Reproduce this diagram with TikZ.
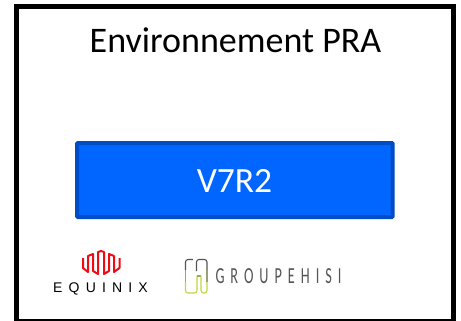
\documentclass[tikz,border=0pt]{standalone}
\usepackage{fontspec}
\setmainfont{Carlito}
\newfontfamily\eqxfont[LetterSpace=44]{Liberation Sans}
\newfontfamily\hisifont[LetterSpace=26,FakeStretch=0.62]{Carlito}
\definecolor{boxfill}{RGB}{0,102,255}
\definecolor{boxedge}{RGB}{0,76,199}
\definecolor{eqxred}{RGB}{240,10,20}
\definecolor{hisigrey}{RGB}{85,85,85}
\definecolor{hisimid}{RGB}{150,165,110}
\definecolor{hisigreen}{RGB}{195,215,70}
\begin{document}
\begin{tikzpicture}[x=1pt,y=-1pt,
  frame/.style={draw=black,line width=4.6pt},
  bluebox/.style={draw=boxedge,fill=boxfill,line width=4pt,rounded corners=1pt},
  lbl/.style={inner sep=0pt,anchor=center},
  logoline/.style={line width=1.1pt,rounded corners=2.5pt}]
\useasboundingbox (0,0) rectangle (461,321);
\fill[white] (0,0) rectangle (461,321);
\draw[frame] (16.5,321) -- (16.5,6.3) -- (453.5,6.3) -- (453.5,321) -- cycle;
\draw[bluebox] (77,143) rectangle (392.7,217);
\node[lbl] (title) at (235.5,40) {\fontsize{36}{40}\selectfont Environnement PRA};
\node[lbl,text=white] (v) at (234.5,181) {\fontsize{35.5}{40}\selectfont V7R2};
\draw[eqxred,line width=2pt,line join=round]
  (83,258) -- (83,268) -- (88,272) -- (88,256) -- (93,254) -- (93,271) -- (98,274) -- (98,252) -- (101,251) -- (104,252) -- (104,274) -- (109,271) -- (109,254) -- (114,256) -- (114,272) -- (119.5,268) -- (119.5,258);
\node[lbl] (eqx) at (100.5,289) {\eqxfont\fontsize{14}{16}\selectfont EQUINIX};
% logo outline, grey at the top fading to green at the bottom
\draw[hisigrey,logoline] (193,259.5) -- (185.5,259.5) -- (185.5,270);
\draw[hisimid,line width=1.1pt] (185.5,270) -- (185.5,282);
\draw[hisigreen,logoline] (185.5,282) -- (185.5,293) -- (197,293) -- (197,276);
\draw[hisimid,line width=1.1pt] (197,276) -- (201,276);
\draw[hisigrey,logoline] (196.5,271) -- (196.5,259.5) -- (207,259.5) -- (207,270);
\draw[hisimid,line width=1.1pt] (207,270) -- (207,282);
\draw[hisigreen,logoline] (207,282) -- (207,293) -- (201,293) -- (201,276);
\node[lbl,text=hisigrey] (hisi) at (278.5,276.5) {\hisifont\fontsize{23}{26}\selectfont GROUPEHISI};
\end{tikzpicture}
\end{document}
